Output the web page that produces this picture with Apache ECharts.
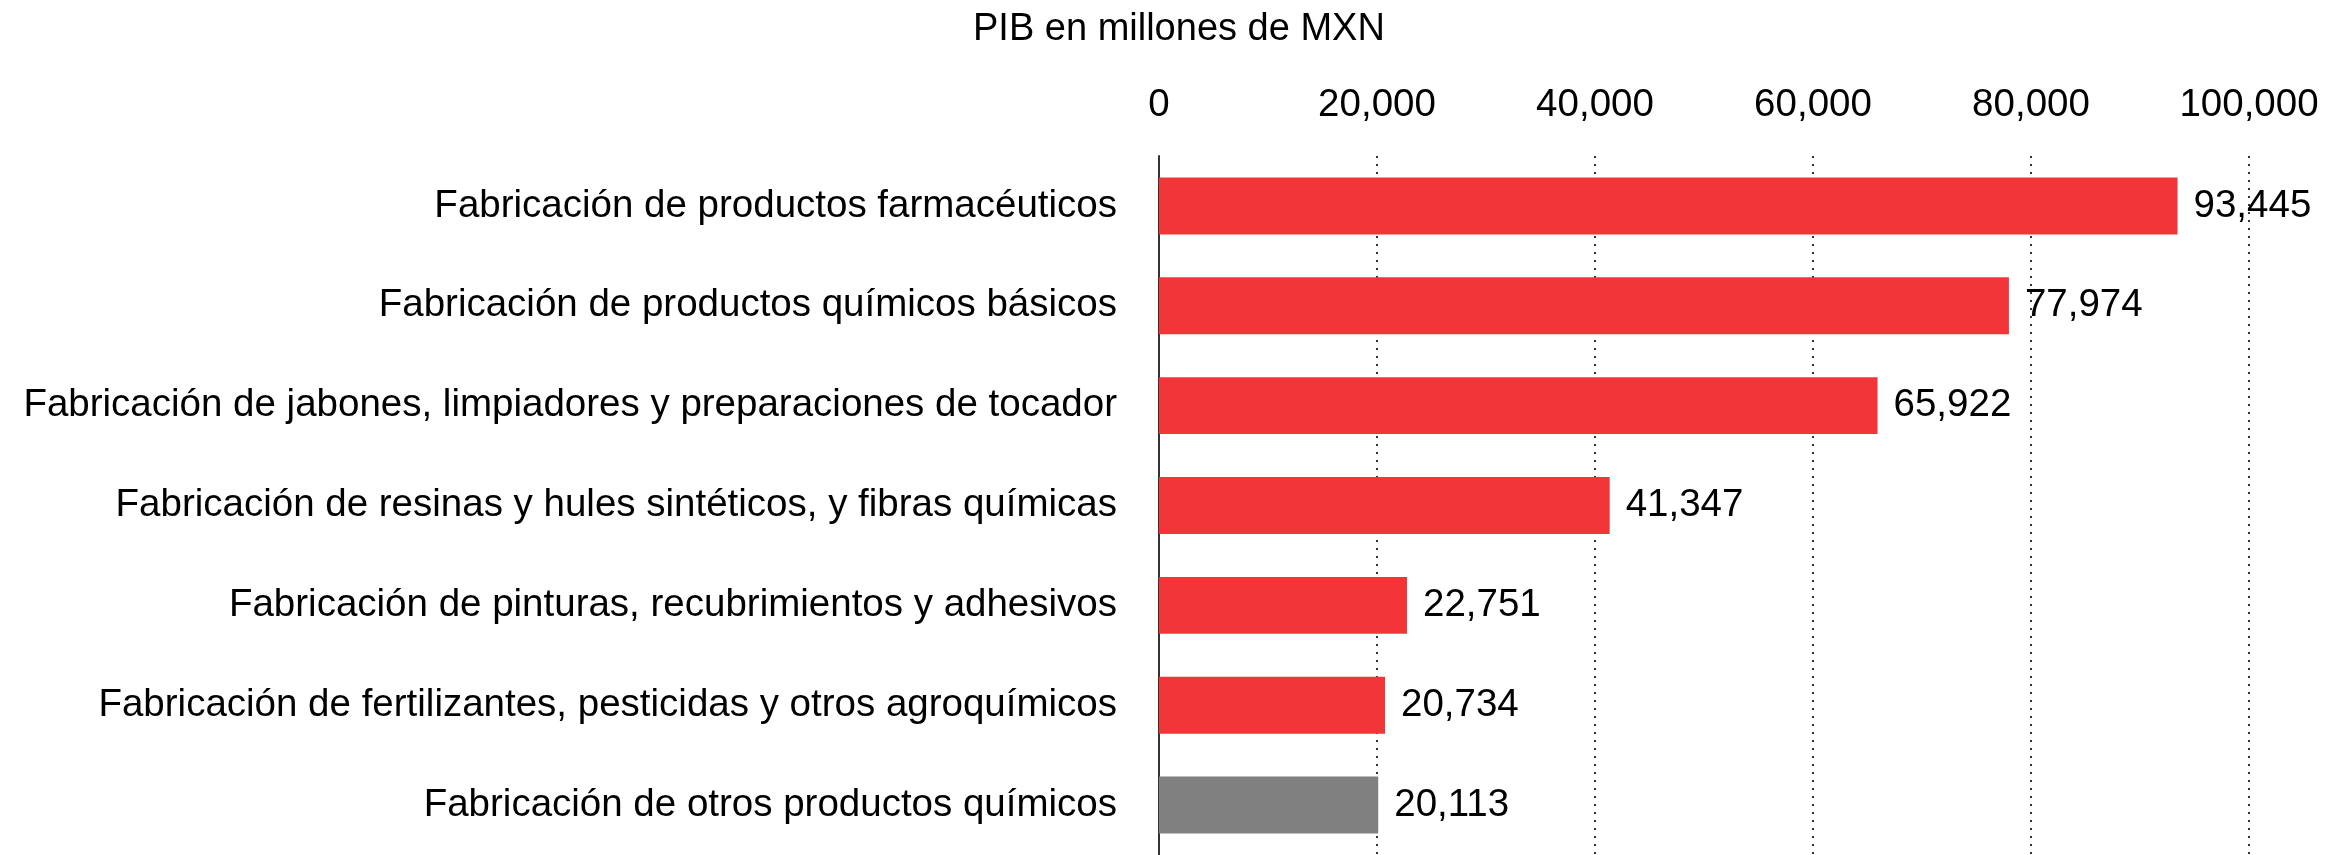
<!DOCTYPE html>
<html>
<head>
<meta charset="utf-8">
<script src="https://cdn.jsdelivr.net/npm/echarts@6/dist/echarts.min.js"></script>
<style>
html,body{margin:0;padding:0;background:#fff;}
#pib_quimica{width:2346px;height:855px;}
</style>
</head>
<body>
<div id="pib_quimica"></div>
<script>
var categories = [
    'Fabricación de productos farmacéuticos',
    'Fabricación de productos químicos básicos',
    'Fabricación de jabones, limpiadores y preparaciones de tocador',
    'Fabricación de resinas y hules sintéticos, y fibras químicas',
    'Fabricación de pinturas, recubrimientos y adhesivos',
    'Fabricación de fertilizantes, pesticidas y otros agroquímicos',
    'Fabricación de otros productos químicos'
];
var pibValues = [93445, 77974, 65922, 41347, 22751, 20734, 20113];
var tickValues = [0, 20000, 40000, 60000, 80000, 100000];
var axisTitle = 'PIB en millones de MXN';

var fontName = '"Liberation Sans", Arial, sans-serif';
var labelSize = 38.5;
var redColor = '#F23538';
var grayColor = '#808080';

function fmtMiles(v){
    return Number(v).toLocaleString('en-US');
}

var chart = echarts.init(document.getElementById('pib_quimica'));
var option = {
    animation: false,
    backgroundColor: '#fff',
    textStyle: {fontFamily: fontName},
    title: {
        text: axisTitle,
        left: 968,
        top: 6,
        textStyle: {fontFamily: fontName, fontSize: 38, fontWeight: 'normal', color: '#000'}
    },
    grid: {left: 1159, top: 156, width: 1090, height: 700, containLabel: false},
    xAxis: {
        type: 'value',
        position: 'top',
        min: tickValues[0],
        max: tickValues[tickValues.length - 1],
        interval: tickValues[1] - tickValues[0],
        axisLine: {show: false},
        axisTick: {show: false},
        axisLabel: {
            margin: 31,
            fontSize: labelSize,
            fontFamily: fontName,
            color: '#000',
            formatter: function(v){ return fmtMiles(v); }
        },
        splitLine: {
            show: true,
            lineStyle: {color: '#333', width: 2, type: [2, 6]}
        }
    },
    yAxis: {
        type: 'category',
        data: categories,
        inverse: true,
        axisLine: {show: true, lineStyle: {color: '#333', width: 2}},
        axisTick: {show: false},
        axisLabel: {
            margin: 42,
            fontSize: labelSize,
            fontFamily: fontName,
            color: '#000'
        }
    },
    series: [{
        type: 'bar',
        data: pibValues,
        barCategoryGap: '43%',
        itemStyle: {
            color: function(p){
                // la ultima barra (otros) va en gris
                return p.dataIndex == pibValues.length - 1 ? grayColor : redColor;
            }
        },
        label: {
            show: true,
            position: 'right',
            distance: 16,
            fontSize: labelSize,
            fontFamily: fontName,
            color: '#000',
            formatter: function(p){ return fmtMiles(p.value); }
        }
    }]
};
chart.setOption(option);
</script>
</body>
</html>
